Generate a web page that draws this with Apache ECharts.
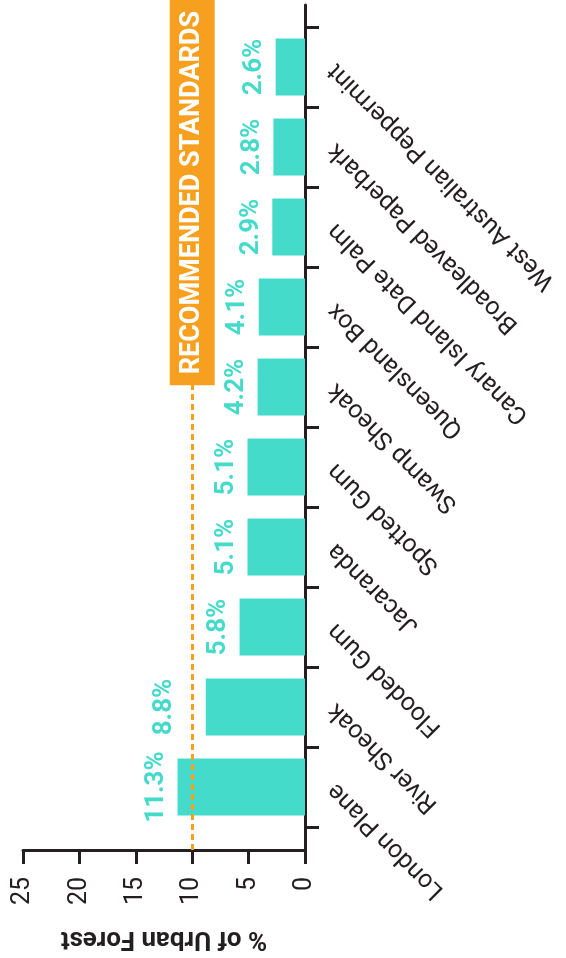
<!DOCTYPE html>
<html>
<head>
<meta charset="utf-8">
<script src="https://cdn.jsdelivr.net/npm/echarts@6/dist/echarts.min.js"></script>
<style>
  html, body { margin: 0; padding: 0; background: #fff; }
  #chart { width: 566px; height: 958px; }
</style>
</head>
<body>
<div id="chart"></div>
<script>
// species listed from the bottom of the picture to the top
const species = [
  'London Plane', 'River Sheoak', 'Flooded Gum', 'Jacaranda', 'Spotted Gum',
  'Swamp Sheoak', 'Queensland Box', 'Canary Island Date Palm',
  'Broadleaved Paperbark', 'West Australian Peppermint'
];
const shares = [11.3, 8.8, 5.8, 5.1, 5.1, 4.2, 4.1, 2.9, 2.8, 2.6];
const valueMax = 25;
const valueStep = 5;
const standard = 10;
const standardLabel = 'RECOMMENDED STANDARDS';
const axisName = '% of Urban Forest';

const ink = '#231f20';
const teal = '#45dbcb';
const orange = '#f7a01f';

const chart = echarts.init(document.getElementById('chart'));

// the label of a bar ending just short of the standard line is pushed past it
const barData = shares.map(function (v) {
  if (v < standard && v > standard - 2) {
    return { value: v, label: { distance: 28 } };
  }
  return v;
});

const option = {
  animation: false,
  grid: [
    // outer grid: value axis + full length right axis line + standard line
    { left: 23, right: 261, top: 5, bottom: 108, outerBoundsMode: 'none' },
    // inner grid: category bands
    { left: 23, right: 261, top: 27, bottom: 131, outerBoundsMode: 'none' }
  ],
  xAxis: [
    {
      gridIndex: 0,
      type: 'value',
      min: 0,
      max: valueMax,
      interval: valueStep,
      inverse: true,
      position: 'bottom',
      axisLine: { show: true, onZero: false, lineStyle: { color: ink, width: 3 } },
      axisTick: { show: true, length: 14, lineStyle: { color: ink, width: 3 } },
      splitLine: { show: false },
      axisLabel: {
        rotate: 90,
        margin: 27,
        fontSize: 25,
        color: ink,
        fontFamily: 'Roboto'
      },
      name: axisName,
      nameLocation: 'middle',
      nameRotate: 180,
      nameGap: 75,
      nameTextStyle: { fontSize: 26, fontWeight: 'bold', color: ink, fontFamily: 'Roboto' }
    },
    {
      gridIndex: 1,
      type: 'value',
      min: 0,
      max: valueMax,
      inverse: true,
      show: false
    }
  ],
  yAxis: [
    {
      gridIndex: 0,
      type: 'value',
      min: 0,
      max: 1,
      position: 'right',
      axisLine: { show: true, onZero: false, lineStyle: { color: ink, width: 3 } },
      axisTick: { show: false },
      axisLabel: { show: false },
      splitLine: { show: false }
    },
    {
      gridIndex: 1,
      type: 'category',
      data: species,
      position: 'right',
      axisLine: { show: false },
      axisTick: { show: true, length: 14, lineStyle: { color: ink, width: 3 } },
      axisLabel: {
        rotate: 135,
        align: 'right',
        verticalAlign: 'middle',
        margin: 27,
        fontSize: 25,
        color: ink,
        fontFamily: 'Roboto'
      }
    }
  ],
  series: [
    {
      type: 'bar',
      xAxisIndex: 1,
      yAxisIndex: 1,
      data: barData,
      barWidth: 57,
      itemStyle: { color: teal },
      label: {
        show: true,
        position: 'left',
        rotate: 90,
        align: 'center',
        verticalAlign: 'bottom',
        distance: 8,
        formatter: '{c}%',
        color: teal,
        fontSize: 26,
        fontWeight: 'bold',
        fontFamily: 'Roboto'
      }
    },
    {
      type: 'line',
      xAxisIndex: 0,
      yAxisIndex: 0,
      data: [],
      markLine: {
        silent: true,
        symbol: 'none',
        lineStyle: { color: orange, width: 3, type: [6, 4] },
        label: {
          show: true,
          position: 'insideEnd',
          formatter: standardLabel,
          color: '#fff',
          backgroundColor: orange,
          fontSize: 27,
          lineHeight: 27,
          fontWeight: 'bold',
          fontFamily: 'Roboto',
          padding: [9, 11, 9, 11],
          distance: -5
        },
        data: [{ xAxis: standard }]
      }
    }
  ]
};

chart.setOption(option);
</script>
</body>
</html>
